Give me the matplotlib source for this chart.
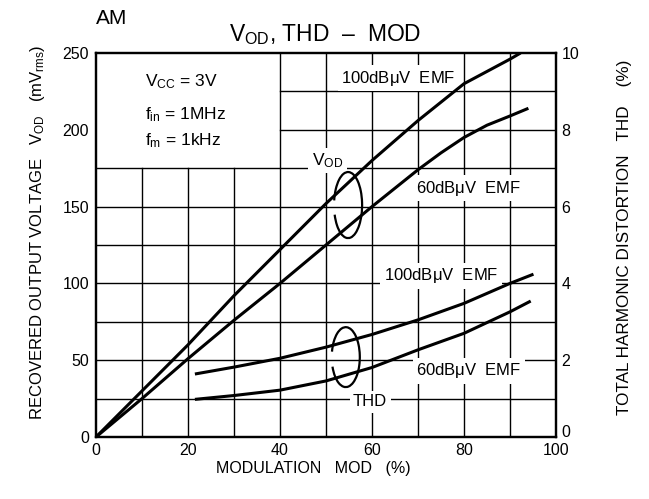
import matplotlib
matplotlib.use("Agg")
import matplotlib.pyplot as plt
from matplotlib.patches import Arc

plt.rcParams['font.family'] = ['Liberation Sans', 'DejaVu Sans']
plt.rcParams['mathtext.default'] = 'regular'
plt.rcParams['mathtext.fontset'] = 'custom'
plt.rcParams['mathtext.rm'] = 'Liberation Sans'
plt.rcParams['mathtext.it'] = 'Liberation Sans:italic'

# ---- data ----
mod_vod_100 = [0, 10, 20, 30, 40, 50, 60, 70, 75, 80, 85, 90, 92.3]
vod_100 = [0, 30, 60, 92, 122, 152, 180, 206, 218, 230, 238, 246, 250]

mod_vod_60 = [0, 10, 20, 30, 40, 50, 60, 70, 75, 80, 85, 90, 94]
vod_60 = [0, 25, 51, 76, 100, 125, 150, 174, 185, 195, 203, 209, 214]

mod_thd_100 = [21.5, 30, 40, 50, 60, 70, 80, 90, 95.1]
thd_100 = [1.64, 1.82, 2.05, 2.34, 2.67, 3.05, 3.48, 4.0, 4.24]

mod_thd_60 = [21.5, 30, 40, 50, 60, 70, 80, 90, 94.5]
thd_60 = [0.98, 1.08, 1.22, 1.46, 1.81, 2.27, 2.70, 3.26, 3.54]

x_ticks = [0, 20, 40, 60, 80, 100]
y_ticks = [0, 50, 100, 150, 200, 250]
y2_ticks = [0, 2, 4, 6, 8, 10]

fig = plt.figure(figsize=(6.49, 4.99), dpi=100)
ax = fig.add_axes([96/649, 62/499, 460/649, 384/499])
ax.set_xlim(0, 100)
ax.set_ylim(0, 250)
ax.set_xticks(x_ticks)
ax.set_yticks(y_ticks)
ax.tick_params(axis='y', length=0, labelsize=11.5, pad=5)
ax.tick_params(axis='x', length=0, labelsize=11.5, pad=4.5)
for s in ax.spines.values():
    s.set_linewidth(1.6)

# grid (interrupted by the conditions box)
for xv in [10, 20, 30]:
    ax.axvline(xv, ymin=0, ymax=175/250, color='black', lw=1.0, zorder=1)
for xv in [40, 50, 60, 70, 80, 90]:
    ax.axvline(xv, color='black', lw=1.0, zorder=1)
for yv in [25, 50, 75, 100, 125, 150, 175]:
    ax.axhline(yv, color='black', lw=1.0, zorder=1)
for yv in [200, 225]:
    ax.axhline(yv, xmin=0.4, xmax=1, color='black', lw=1.0, zorder=1)

ax.plot(mod_vod_100, vod_100, color='black', lw=2.2, zorder=4, solid_capstyle='butt')
ax.plot(mod_vod_60, vod_60, color='black', lw=2.2, zorder=4, solid_capstyle='butt')

bbox = dict(facecolor='white', edgecolor='none', pad=2.5)
fs = 12
ax.text(65.7, 233.5, r'100dB$\mu$V  EMF', ha='center', va='center', fontsize=fs, bbox=bbox, zorder=3)
ax.text(81, 162, r'60dB$\mu$V  EMF', ha='center', va='center', fontsize=fs, bbox=bbox, zorder=3)
ax.text(75, 105, r'100dB$\mu$V  EMF', ha='center', va='center', fontsize=fs, bbox=bbox, zorder=3)
ax.text(81, 43, r'60dB$\mu$V  EMF', ha='center', va='center', fontsize=fs, bbox=bbox, zorder=3)
ax.text(50.3, 180, r'V$_{OD}$', ha='center', va='center', fontsize=fs + 0.5, bbox=bbox, zorder=3)
ax.text(59.6, 22.8, 'THD', ha='center', va='center', fontsize=fs, bbox=bbox, zorder=3)

cfs = 12.5
ax.text(10.7, 231.5, r'V$_{CC}$ = 3V', ha='left', va='center', fontsize=cfs, zorder=3)
ax.text(10.7, 210, r'f$_{in}$ = 1MHz', ha='left', va='center', fontsize=cfs, zorder=3)
ax.text(10.7, 193, r'f$_m$ = 1kHz', ha='left', va='center', fontsize=cfs, zorder=3)

ax.add_patch(Arc((54.8, 151), 6.1, 43, theta1=-115, theta2=135, color='black', lw=1.6, zorder=4))
ax.add_patch(Arc((54.3, 52), 6.1, 39, theta1=-115, theta2=130, color='black', lw=1.6, zorder=4))

ax2 = ax.twinx()
ax2.set_ylim(0, 10)
ax2.set_yticks(y2_ticks)
ax2.tick_params(length=0, labelsize=11.5, pad=4)
for s in ax2.spines.values():
    s.set_linewidth(1.6)
ax2.plot(mod_thd_100, thd_100, color='black', lw=2.2, zorder=4, solid_capstyle='butt')
ax2.plot(mod_thd_60, thd_60, color='black', lw=2.2, zorder=4, solid_capstyle='butt')
# lift the right-hand "0" slightly so it clears the x-axis "100"
ax2.yaxis.get_major_ticks()[0].label2.set_verticalalignment('baseline')

fig.text(313/649, 1 - 468/499, 'MODULATION   MOD   (%)', fontsize=11.5, ha='center', va='center')
fig.text(38/649, 1 - 232/499, r'RECOVERED OUTPUT VOLTAGE   V$_{OD}$   (mV$_{rms}$)',
         fontsize=12, ha='center', va='center', rotation=90)
fig.text(624/649, 1 - 237/499, 'TOTAL HARMONIC DISTORTION   THD    (%)',
         fontsize=12.3, ha='center', va='center', rotation=90)

fig.text(96/649, 1 - 18/499, 'AM', fontsize=15, ha='left', va='center')
fig.text(325/649, 1 - 35/499, r'V$_{OD}$, THD  –  MOD', fontsize=16.5, ha='center', va='center')

fig.savefig('out.png', dpi=100)
